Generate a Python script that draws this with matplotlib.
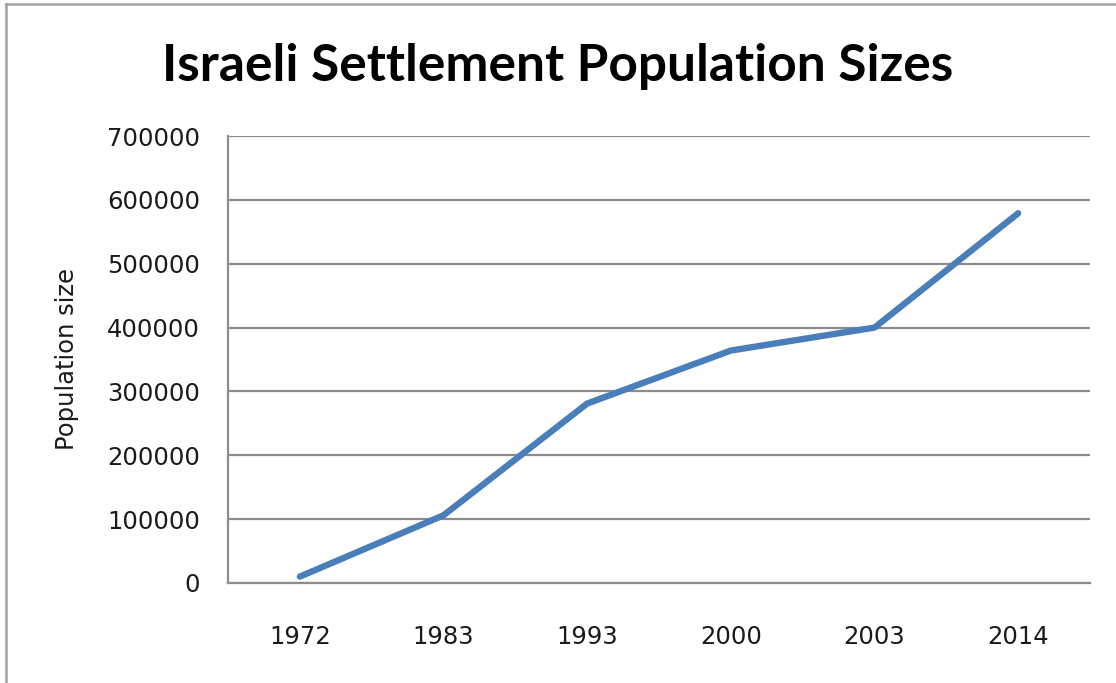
import matplotlib.pyplot as plt
from matplotlib.lines import Line2D

years = ['1972', '1983', '1993', '2000', '2003', '2014']
population = [10000, 106000, 281000, 364000, 400000, 579000]
y_ticks = [0, 100000, 200000, 300000, 400000, 500000, 600000, 700000]

W, H = 1116, 683
fig = plt.figure(figsize=(W / 100, H / 100), dpi=100)
ax = fig.add_axes([228 / W, 1 - 583 / H, (1090 - 228) / W, (583 - 136) / H])

x = list(range(len(years)))
ax.plot(x, population, color='#4a7ebb', lw=4.6, solid_capstyle='round', solid_joinstyle='round', zorder=3)

ax.set_xlim(-0.5, len(years) - 0.5)
ax.set_ylim(0, 700000)
ax.set_xticks(x)
ax.set_xticklabels(years)
ax.set_yticks(y_ticks)
ax.set_yticklabels([str(v) for v in y_ticks])
ax.tick_params(length=0, labelsize=17.5, colors='#1a1a1a')
ax.tick_params(axis='y', pad=20)
ax.tick_params(axis='x', pad=30)

ax.grid(axis='y', color='#8c8c8c', lw=1.6)
ax.set_axisbelow(True)
for s in ['top', 'right']:
    ax.spines[s].set_visible(False)
for s in ['left', 'bottom']:
    ax.spines[s].set_color('#8c8c8c')
    ax.spines[s].set_linewidth(1.6)

ax.set_ylabel('Population size', fontsize=17.5, labelpad=20, color='#1a1a1a')

fig.text(0.5, 1 - 66 / H, 'Israeli Settlement Population Sizes', ha='center', va='center',
         fontsize=37, fontweight='bold', family='Lato')

# outer chart frame (top and left edges visible)
fig.add_artist(Line2D([6 / W, 1], [1 - 4 / H, 1 - 4 / H], color='#a0a0a0', lw=1.8))
fig.add_artist(Line2D([6 / W, 6 / W], [0, 1 - 4 / H], color='#a0a0a0', lw=1.8))

fig.savefig('out.png', dpi=100)
